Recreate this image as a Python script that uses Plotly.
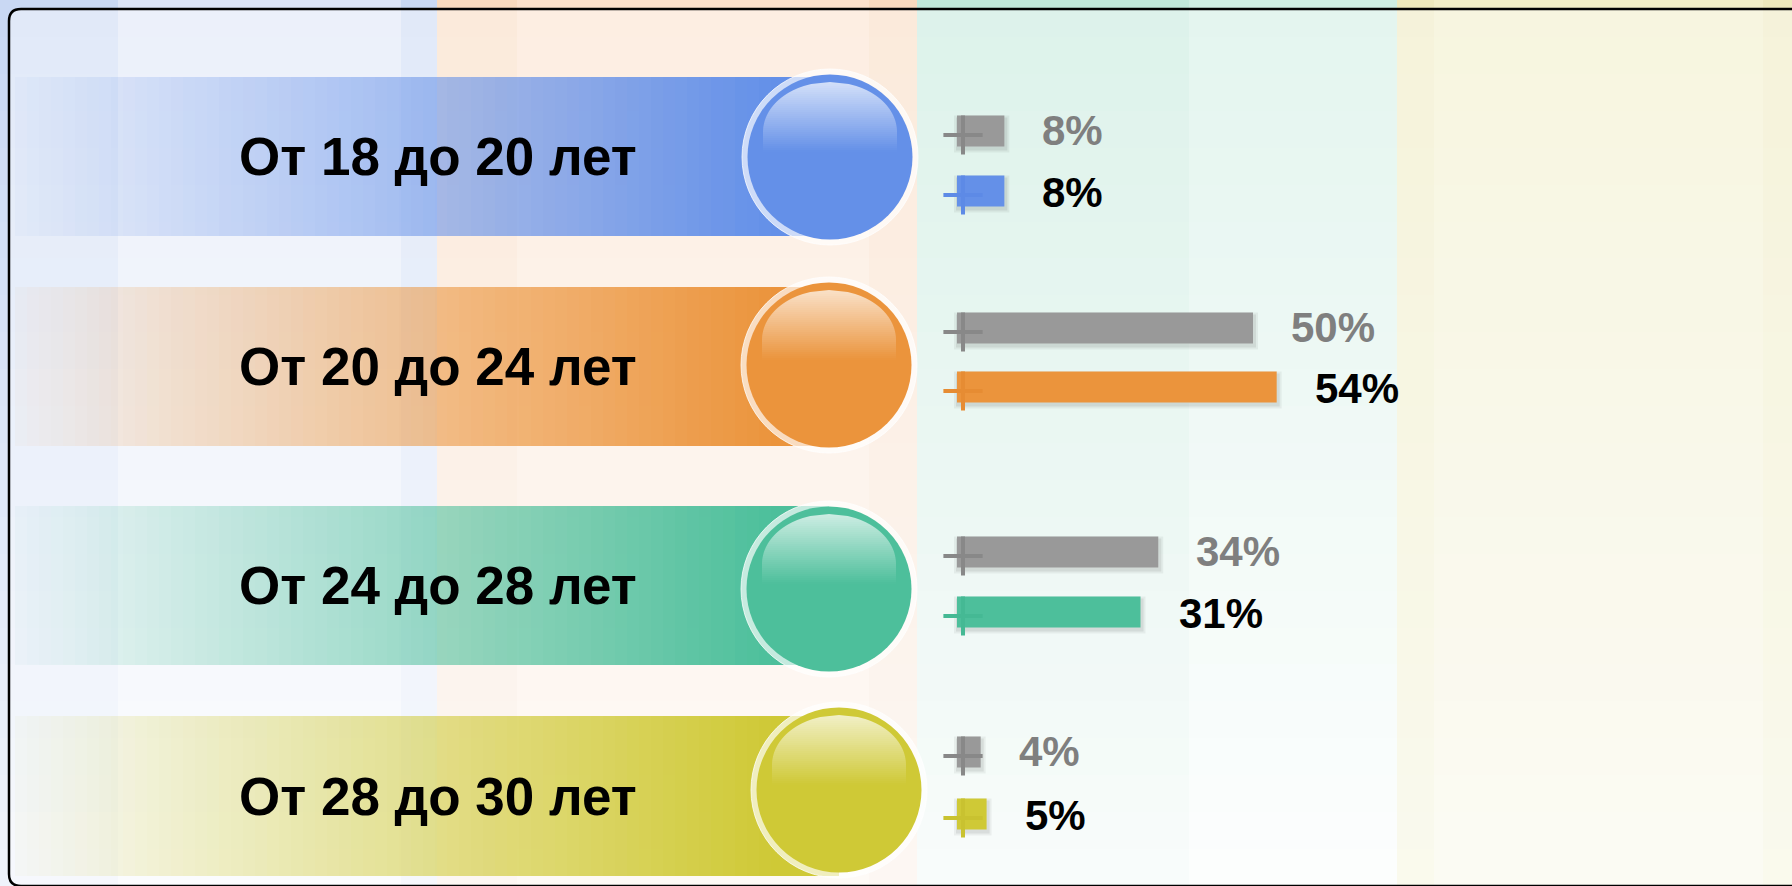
import math
import plotly.graph_objects as go

W, H = 1792, 886

# ---------------- data ----------------
categories = ["От 18 до 20 лет", "От 20 до 24 лет", "От 24 до 28 лет", "От 28 до 30 лет"]
values_gray = [8, 50, 34, 4]      # grey (comparison) series, %
values_color = [8, 54, 31, 5]     # coloured series, %

# ---------------- styles ----------------
series_colors = ["#6490E8", "#EB943C", "#4DBF9B", "#CFC936"]
cross_colors = ["#5D8AE6", "#E68C33", "#45B994", "#C9C230"]
GRAY_BAR = "#999999"
GRAY_CROSS = "#888888"
GRAY_TEXT = "#7F7F7F"
FONT = "Liberation Sans, Arial, sans-serif"

# ---------------- layout constants (pixels) ----------------
BAND_Y = [156.5, 366.5, 585.5, 796]
BAND_H = 159
BAND_X0 = 15
CIRCLES = [(830, 157), (829, 365), (829, 589), (839, 790)]
R_RING, R_DISK = 88, 82.5
BAR_Y_GRAY = [131, 328, 552, 752]
BAR_Y_COLOR = [191, 387, 612, 814]
BAR_W = 31
BAR_X0 = 957
PX_PER_PCT = 5.92
LABEL_GAP = 36
TEXT_X = 438

STRIPES = [  # x0, x1, colour at top, colour at bottom
    (0, 118, "#c8d7f3", "#f0f4fb"),
    (118, 401, "#dbe4f6", "#f8fafe"),
    (401, 437, "#c8d7f3", "#f0f4fb"),
    (437, 517, "#f8d8bd", "#fbf2eb"),
    (517, 869, "#fbe0ca", "#fdf6f0"),
    (869, 917, "#f8d8bd", "#fbf2eb"),
    (917, 1189, "#c0e8d9", "#f4f9f8"),
    (1189, 1397, "#cdede1", "#fbfdfd"),
    (1397, 1434, "#ede8bb", "#f6f6e0"),
    (1434, 1763, "#f1edc5", "#f8f8eb"),
    (1763, 1792, "#ede8bb", "#f6f6e0"),
]


def rgb(h):
    h = h.lstrip("#")
    return tuple(int(h[i:i + 2], 16) for i in (0, 2, 4))


def mix(c1, c2, t):
    a, b = rgb(c1), rgb(c2)
    return "rgb(%d,%d,%d)" % tuple(round(a[i] + (b[i] - a[i]) * t) for i in range(3))


def rgba(h, a):
    r, g, b = rgb(h)
    return "rgba(%d,%d,%d,%.3f)" % (r, g, b, a)


shapes = []

# background stripes with vertical fade
N = 24
for x0, x1, ct, cb in STRIPES:
    for k in range(N):
        y0 = round(k * H / N)
        y1 = round((k + 1) * H / N)
        t = (k + 0.5) / N
        shapes.append(dict(type="rect", xref="x", yref="y", x0=x0, x1=x1, y0=y0, y1=y1,
                           fillcolor=mix(ct, cb, t), line=dict(width=0), layer="below"))

# white veil inside the frame
BX0, BY0, BY1, RR = 9, 9, 886, 12
veil = (f"M {BX0+RR},{BY0} L {W+40},{BY0} L {W+40},{BY1} L {BX0+RR},{BY1} "
        f"Q {BX0},{BY1} {BX0},{BY1-RR} L {BX0},{BY0+RR} Q {BX0},{BY0} {BX0+RR},{BY0} Z")
shapes.append(dict(type="path", xref="x", yref="y", path=veil,
                   fillcolor="rgba(255,255,255,0.45)", line=dict(width=0), layer="below"))

# gradient bands behind category names
STEP = 12
for i, col in enumerate(series_colors):
    cx, cy = CIRCLES[i]
    yc = BAND_Y[i]
    x = BAND_X0
    while x < cx:
        xe = min(x + STEP, cx)
        xm = (x + xe) / 2
        a = max(0.0, min(1.0, 0.03 + (xm - BAND_X0) * (0.97 / 755)))
        shapes.append(dict(type="rect", xref="x", yref="y", x0=x, x1=xe,
                           y0=round(yc - BAND_H / 2), y1=round(yc + BAND_H / 2),
                           fillcolor=rgba(col, a), line=dict(width=0), layer="below"))
        x = xe

# glossy circles
for i, col in enumerate(series_colors):
    cx, cy = CIRCLES[i]
    shapes.append(dict(type="circle", xref="x", yref="y", x0=cx - R_RING, x1=cx + R_RING,
                       y0=cy - R_RING, y1=cy + R_RING, fillcolor="rgba(255,255,255,0.68)",
                       line=dict(width=1, color="rgba(255,255,255,0.75)"), layer="below"))
    shapes.append(dict(type="circle", xref="x", yref="y", x0=cx - R_DISK, x1=cx + R_DISK,
                       y0=cy - R_DISK, y1=cy + R_DISK, fillcolor=col,
                       line=dict(width=0), layer="below"))
    # highlight
    rx, ry = 67, 50
    ey = cy - 25
    ytop, ybot = cy - 75, cy - 5

    def hw(y):
        if y >= ey:
            return rx
        v = 1 - ((y - ey) / ry) ** 2
        return rx * math.sqrt(max(0.0, v))

    y = ytop
    while y < ybot:
        y2 = y + 2
        t = ((y + y2) / 2 - ytop) / (ybot - ytop)
        a = 0.72 * (1 - t)
        h0, h1 = hw(y), hw(y2)
        p = f"M {cx-h0},{y} L {cx+h0},{y} L {cx+h1},{y2} L {cx-h1},{y2} Z"
        shapes.append(dict(type="path", xref="x", yref="y", path=p,
                           fillcolor=f"rgba(255,255,255,{a:.3f})", line=dict(width=0), layer="below"))
        y = y2

# frame line
frame = (f"M {W+40},{BY0} L {BX0+RR},{BY0} Q {BX0},{BY0} {BX0},{BY0+RR} "
         f"L {BX0},{BY1-RR} Q {BX0},{BY1} {BX0+RR},{BY1} L {W+40},{BY1}")
shapes.append(dict(type="path", xref="x", yref="y", path=frame,
                   line=dict(width=2.5, color="#000000"), layer="below"))

fig = go.Figure()

K = PX_PER_PCT
all_vals = values_gray + values_color
all_y = BAR_Y_GRAY + BAR_Y_COLOR

# soft shadow under bars (two faint layers)
for grow, alpha in ((6, 0.05), (2, 0.07)):
    fig.add_trace(go.Bar(
        x=[v + (2 + grow) / K for v in all_vals], base=[-grow / 2 / K] * len(all_vals),
        y=[y + 3 for y in all_y], width=BAR_W + grow, orientation="h",
        marker=dict(color=f"rgba(0,0,0,{alpha})", line=dict(width=0)),
        xaxis="x2", yaxis="y", hoverinfo="skip"))

fig.add_trace(go.Bar(
    x=values_gray, y=BAR_Y_GRAY, width=BAR_W, orientation="h",
    marker=dict(color=GRAY_BAR, line=dict(width=0)),
    xaxis="x2", yaxis="y", name="gray"))
fig.add_trace(go.Bar(
    x=values_color, y=BAR_Y_COLOR, width=BAR_W, orientation="h",
    marker=dict(color=series_colors, line=dict(width=0)),
    xaxis="x2", yaxis="y", name="color"))

# plus-sign marks at the bar starts
fig.add_trace(go.Scatter(
    x=[6 / K] * 8, y=[y + 4 for y in all_y], mode="markers",
    marker=dict(symbol="cross-thin", size=28,
                line=dict(width=4, color=[GRAY_CROSS] * 4 + cross_colors)),
    xaxis="x2", yaxis="y", cliponaxis=False, hoverinfo="skip"))

annotations = []
for i, cat in enumerate(categories):
    annotations.append(dict(x=TEXT_X, y=BAND_Y[i], xref="x", yref="y", text=cat,
                            showarrow=False, xanchor="center", yanchor="middle",
                            font=dict(family=FONT, size=53, color="#000000", weight="bold")))
for i in range(len(categories)):
    annotations.append(dict(x=values_gray[i], y=BAR_Y_GRAY[i], xref="x2", yref="y",
                            text=f"{values_gray[i]}%", showarrow=False,
                            xanchor="left", yanchor="middle", xshift=LABEL_GAP, yshift=1,
                            font=dict(family=FONT, size=42, color=GRAY_TEXT, weight="bold")))
    annotations.append(dict(x=values_color[i], y=BAR_Y_COLOR[i], xref="x2", yref="y",
                            text=f"{values_color[i]}%", showarrow=False,
                            xanchor="left", yanchor="middle", xshift=LABEL_GAP, yshift=-1,
                            font=dict(family=FONT, size=42, color="#000000", weight="bold")))

fig.update_layout(
    width=W, height=H, margin=dict(l=0, r=0, t=0, b=0, pad=0),
    paper_bgcolor="#ffffff", plot_bgcolor="#ffffff",
    showlegend=False, barmode="overlay",
    xaxis=dict(range=[0, W], visible=False, fixedrange=True),
    xaxis2=dict(range=[-BAR_X0 / K, (W - BAR_X0) / K], overlaying="x",
                visible=False, fixedrange=True),
    yaxis=dict(range=[H, 0], visible=False, fixedrange=True, type="linear"),
    shapes=shapes, annotations=annotations,
)

fig.write_html("out.html", config={"displayModeBar": False},
               post_script="document.body.style.margin='0';document.body.style.overflow='hidden';")
